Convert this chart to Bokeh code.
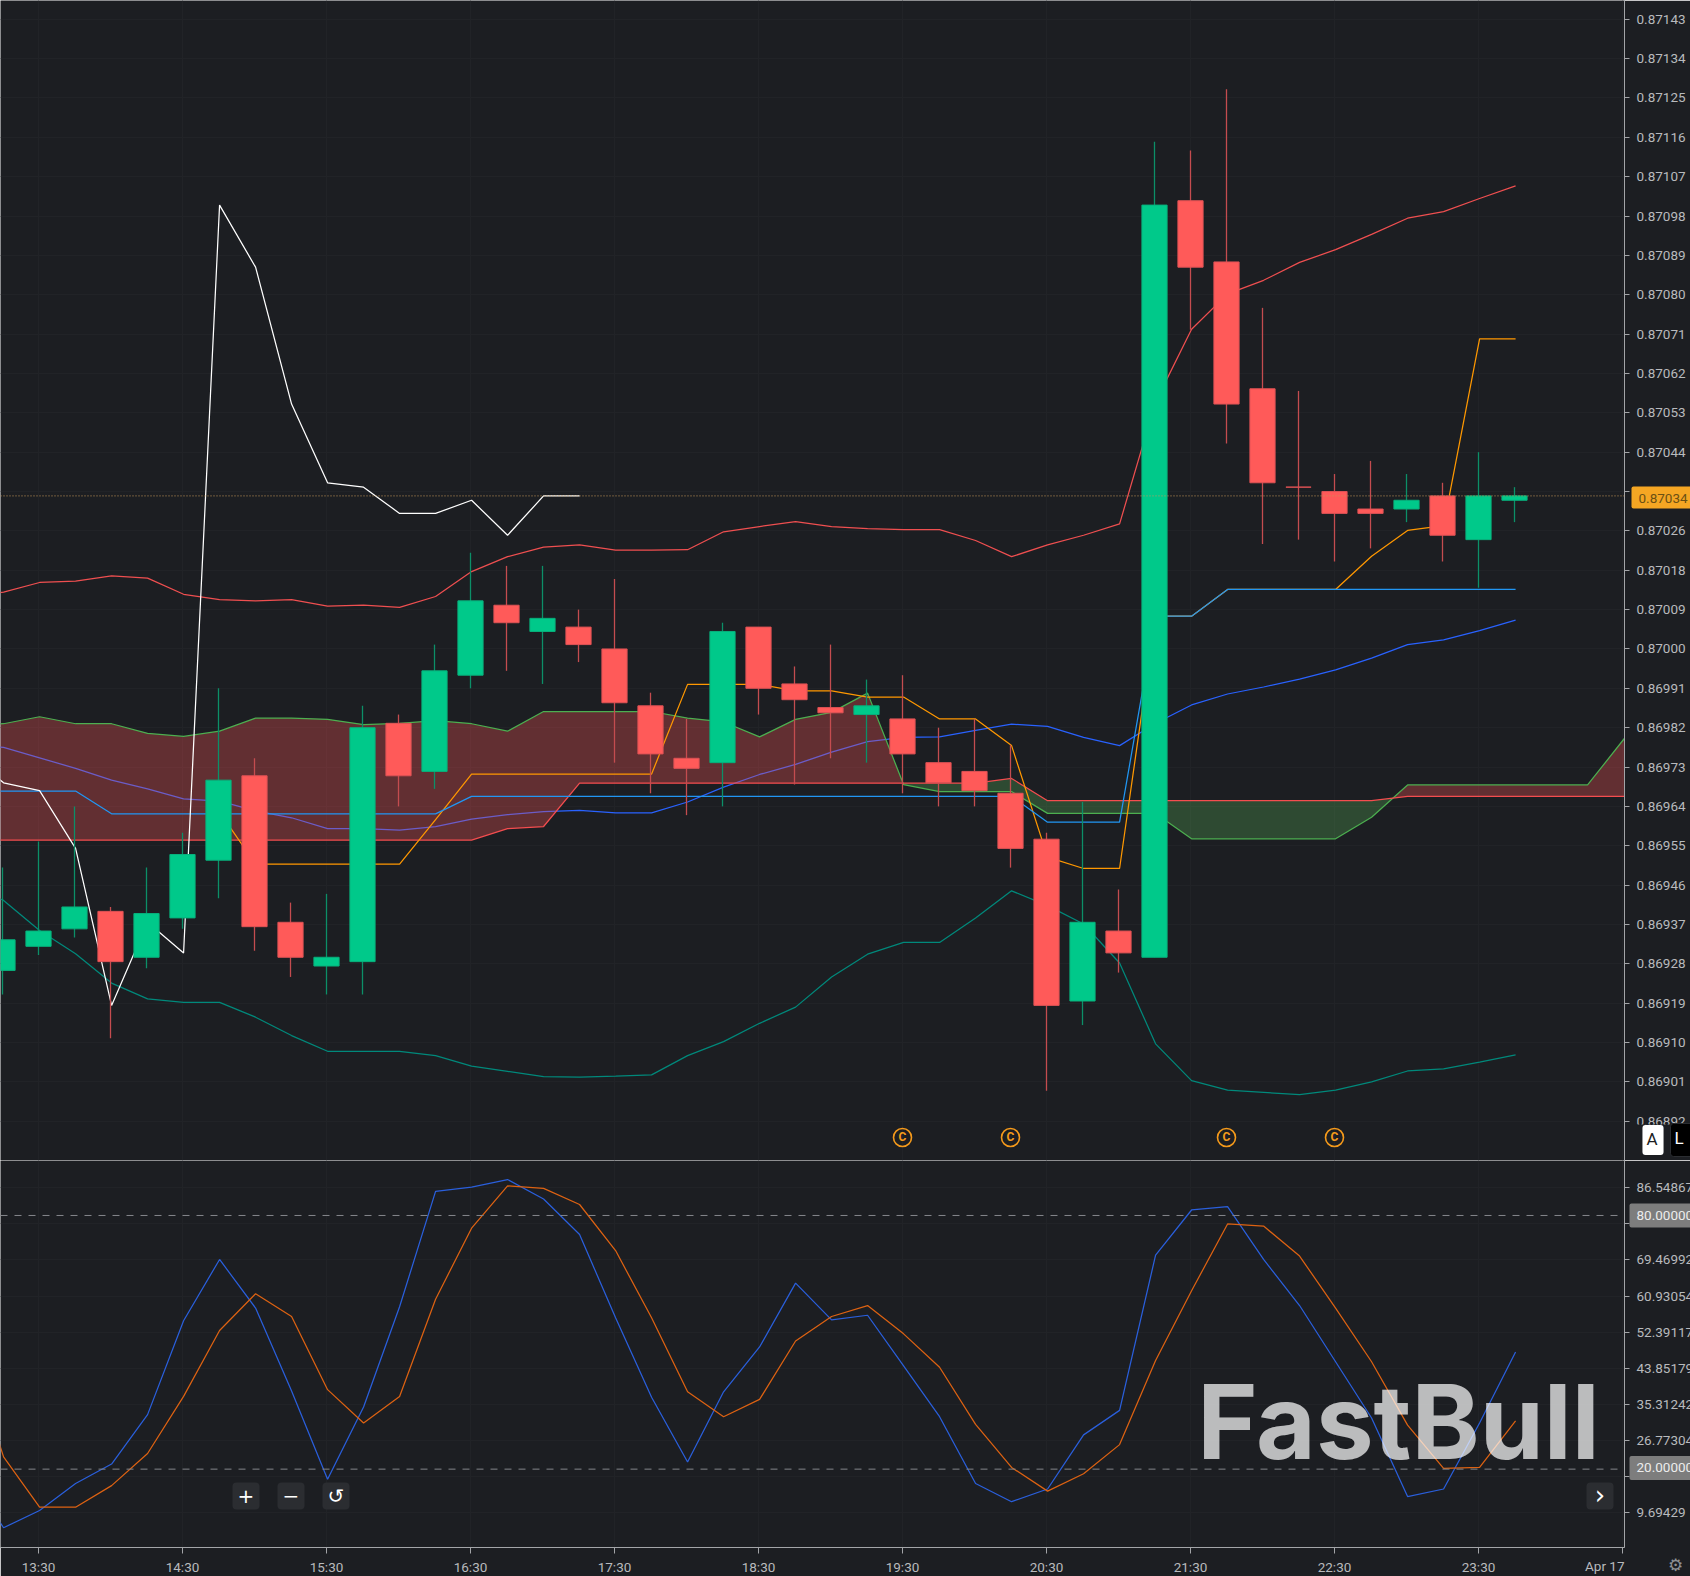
import numpy as np
from bokeh.embed import file_html
from bokeh.resources import INLINE
from bokeh.plotting import figure
from bokeh.layouts import column
from bokeh.models import (Range1d, FixedTicker, Grid, Span, Label, BoxAnnotation)
from bokeh.core.properties import value

# ---------- data ----------
opens  = [86925.5,86931,86935,86939,86928.5,86937.5,86950.7,86970,86936.5,86926.5,86927.5,86982,86971,86993,87009,87003,87004,86999,86986,86974,86973,87004,86991,86985.6,86984,86983,86973,86971,86966,86955.5,86918.5,86934.5,86928.5,87101.5,87087.5,87058.5,87036,87035,87031,87031,87034,87024,87033]
highs  = [86949,86955,86963,86940,86949,86957,86990,86974,86941,86943,86986,86984,87000,87021,87018,87018,87008,87015,86989,86983,87005,87004,86995,87000,86992,86993,86981,86983,86977,86957,86964,86944,87115,87113,87127,87077,87058,87039,87042,87039,87037,87044,87036]
lows   = [86920,86929,86933,86910,86926,86935,86942,86930,86924,86920,86920,86963,86967,86990,86994,86991,86996,86973,86966,86961,86963,86984,86968,86974,86973,86966,86963,86963,86949,86898,86913,86925,86928.5,87072,87046,87023,87024,87019,87022,87028,87019,87013,87028]
closes = [86932.5,86934.5,86940,86927.5,86938.5,86952,86969,86935.5,86928.5,86928.5,86981,86970,86994,87010,87005,87006,87000,86986.7,86975,86971.7,87003,86990,86987.4,86984.4,86986,86975,86968.4,86966.6,86953.4,86917.5,86936.5,86929.5,87100.5,87086.3,87055,87037,87036,87030,87030,87033,87025,87034,87034]

# indicator arrays start one bar left of the first candle
bb_upper = [0.870110,0.870120,0.870142,0.870145,0.870157,0.870152,0.870115,0.870103,0.870100,0.870103,0.870088,0.870090,0.870085,0.870110,0.870167,0.870201,0.870223,0.870228,0.870216,0.870216,0.870217,0.870258,0.870270,0.870281,0.870270,0.870265,0.870263,0.870263,0.870238,0.870201,0.870228,0.870250,0.870276,0.870555,0.870721,0.870802,0.870833,0.870874,0.870903,0.870938,0.870975,0.870990,0.871020,0.871049]
bb_lower = [0.869450,0.869415,0.869346,0.869293,0.869226,0.869190,0.869182,0.869182,0.869148,0.869106,0.869070,0.869070,0.869070,0.869060,0.869036,0.869024,0.869012,0.869011,0.869013,0.869016,0.869060,0.869092,0.869134,0.869171,0.869240,0.869292,0.869319,0.869319,0.869375,0.869437,0.869403,0.869361,0.869272,0.869087,0.869003,0.868981,0.868976,0.868971,0.868981,0.869000,0.869025,0.869030,0.869045,0.869062]
bb_mid   = [0.869770,0.869765,0.869741,0.869717,0.869690,0.869670,0.869647,0.869642,0.869620,0.869604,0.869579,0.869579,0.869576,0.869584,0.869601,0.869611,0.869618,0.869621,0.869615,0.869615,0.869640,0.869674,0.869703,0.869726,0.869754,0.869778,0.869788,0.869789,0.869804,0.869818,0.869813,0.869788,0.869769,0.869820,0.869862,0.869887,0.869903,0.869921,0.869942,0.869969,0.870000,0.870011,0.870032,0.870056]
kijun    = [0.869665]*4 + [0.869613]*10 + [0.869653]*16 + [0.869594]*3 + [0.870065]*2 + [0.870126]*9
tenkan_start = 6
tenkan   = [0.869617] + [0.869498]*5 + [0.869600] + [0.869704]*6 + [0.869909]*3 + [0.869894]*2 + [0.869880]*2 + [0.869830]*2 + [0.869769,0.869514,0.869488,0.869488,0.870065,0.870065,0.870126,0.870126,0.870126,0.870126,0.870202,0.870261,0.870272,0.870699,0.870699]
span_a   = [0.869816,0.869819,0.869835,0.869819,0.869819,0.869797,0.869790,0.869802,0.869832,0.869832,0.869829,0.869817,0.869820,0.869826,0.869819,0.869802,0.869847,0.869847,0.869847,0.869847,0.869832,0.869823,0.869789,0.869829,0.869845,0.869889,0.869680,0.869664,0.869664,0.869664,0.869614,0.869614,0.869614,0.869614,0.869556,0.869556,0.869556,0.869556,0.869556,0.869605,0.869679,0.869679,0.869679,0.869679,0.869679,0.869679,0.869783,0.869887]
span_b   = [0.869553]*15 + [0.869579,0.869584] + [0.869683]*12 + [0.869694] + [0.869643]*10 + [0.869653]*8

stoch_k = [19.0,6.14,10.22,16.6,21.2,32.9,55.1,69.6,58.1,38.5,17.6,34.7,58.4,85.7,86.7,88.5,83.9,75.5,55.8,37.0,21.7,38.3,48.9,64.0,55.3,56.4,44.4,32.4,16.6,12.3,15.3,28.1,33.9,70.6,81.3,82.1,69.6,58.7,45.4,32.1,13.5,15.3,30.9,47.7]
stoch_d = [49.5,22.9,11.0,11.0,16.1,23.7,37.2,52.8,61.5,56.1,38.8,30.9,37.2,60.2,77.0,87.0,86.4,82.6,71.7,55.8,38.3,32.4,36.5,50.3,56.1,58.7,52.0,44.1,30.6,20.4,14.8,18.9,25.8,45.7,62.2,78.0,77.5,70.4,58.1,45.4,30.4,20.2,20.4,31.4]

price_ticks = ["0.87143","0.87134","0.87125","0.87116","0.87107","0.87098","0.87089","0.87080","0.87071","0.87062","0.87053","0.87044","","0.87026","0.87018","0.87009","0.87000","0.86991","0.86982","0.86973","0.86964","0.86955","0.86946","0.86937","0.86928","0.86919","0.86910","0.86901","0.86892"]
price_tick_top = 0.87143
price_tick_step = 0.00009
osc_tick_values = [86.54867,78.00929,69.46992,60.93054,52.39117,43.85179,35.31242,26.77304,18.23367,9.69429]
osc_ticks = ["86.54867","","69.46992","60.93054","52.39117","43.85179","35.31242","26.77304","","9.69429"]
time_idx = [1,5,9,13,17,21,25,29,33,37,41,45]
time_labels = ["13:30","14:30","15:30","16:30","17:30","18:30","19:30","20:30","21:30","22:30","23:30",""]
event_idx = [25,28,34,37]
event_price = [0.868873]*4
last_price = 0.87034
last_price_text = "0.87034"

# ---------- style ----------
BG = "#1C1E22"
GRID = "#212327"
AXIS = "#A3A5A8"
TXT = "#B8BABD"
FONT = "Roboto"
TICK_FS = "13.5px"
UP = "#00C98A"; DOWN = "#FF5A59"
UP_W = "#0C8F68"; DOWN_W = "#C44C4F"
UP_B = "#08B07C"; DOWN_B = "#DD5255"
LINE_SHIFT = 0.03
LW = 1.25
W, FW = 1690, 1624
H1, H2, H2F = 1160, 416, 387
xr = Range1d(-2/36, (FW-2)/36)

o, h, l, c = [np.array(a)*1e-5 for a in (opens, highs, lows, closes)]
idx = np.arange(len(o))
up = c > o
base = np.arange(-1, 60)

def make_fig(height, frame_h, yr, tick_pos, labels, xaxis):
    f = figure(width=W, height=height, frame_width=FW, frame_height=frame_h, x_range=xr, y_range=yr,
               output_backend="svg", toolbar_location=None, tools="",
               x_axis_location="below" if xaxis else None, y_axis_location="right",
               background_fill_color=BG, border_fill_color=BG, outline_line_color=None,
               min_border_left=0, min_border_top=0, min_border_bottom=0, min_border_right=0)
    ya = f.yaxis[0]
    ya.ticker = FixedTicker(ticks=tick_pos)
    ya.major_label_overrides = dict(zip(tick_pos, labels))
    ya.major_label_text_color = TXT; ya.major_label_text_font = FONT; ya.major_label_text_font_size = TICK_FS
    ya.major_label_standoff = 7
    ya.major_tick_out = 5; ya.major_tick_in = 0; ya.minor_tick_out = 0; ya.minor_tick_in = 0
    ya.major_tick_line_color = AXIS; ya.axis_line_color = AXIS
    for g in list(f.grid):
        f.center.remove(g)
    f.add_layout(Grid(dimension=1, ticker=FixedTicker(ticks=tick_pos), grid_line_color=GRID))
    f.add_layout(Grid(dimension=0, ticker=FixedTicker(ticks=time_idx), grid_line_color=GRID))
    return f

def to_x(px):
    return xr.start + px/36

def to_y(f, fh, py):
    yr = f.y_range
    return yr.end - py*(yr.end-yr.start)/fh

def box(f, fh, x0, y0, x1, y1, color, radius=0):
    f.add_layout(BoxAnnotation(left=to_x(x0), right=to_x(x1), top=to_y(f, fh, y0), bottom=to_y(f, fh, y1),
                               fill_color=color, fill_alpha=1, line_color=None, border_radius=radius, level="annotation"))

def label(f, fh, x, y, text, color, size, font=FONT, align="center", style="normal", alpha=1.0, side="center",
          bg=None, pad=0, radius=0, border=None):
    # placed through the figure's scales, so it works from a side panel as well
    f.add_layout(Label(x=to_x(x), y=to_y(f, fh, y), text=text, text_color=color,
                       text_font=font, text_font_size=size, text_align=align, text_baseline="middle",
                       text_font_style=style, text_alpha=alpha, level="annotation",
                       background_fill_color=bg, padding=pad, border_radius=radius, border_line_color=border), side)

# ---------- price pane ----------
price_pos = [round(price_tick_top - k*price_tick_step, 5) for k in range(len(price_ticks))]
p = make_fig(H1, H1, Range1d(0.8688203, 0.8714728), price_pos, price_ticks, False)

p.line(base[:len(bb_upper)]+LINE_SHIFT, bb_upper, line_color="#EF4F50", line_width=LW)
p.line(base[:len(bb_lower)]+LINE_SHIFT, bb_lower, line_color="#00897B", line_width=LW)
p.line(base[:len(bb_mid)]+LINE_SHIFT, bb_mid, line_color="#2962FF", line_width=LW)

xa = base[:len(span_a)].astype(float)+LINE_SHIFT
a = np.array(span_a); b = np.array(span_b)
xf, af, bf = [xa[0]], [a[0]], [b[0]]
for k in range(1, len(xa)):
    d0, d1 = a[k-1]-b[k-1], a[k]-b[k]
    if d0*d1 < 0:
        t = d0/(d0-d1)
        xf.append(xa[k-1]+t*(xa[k]-xa[k-1])); v = a[k-1]+t*(a[k]-a[k-1]); af.append(v); bf.append(v)
    xf.append(xa[k]); af.append(a[k]); bf.append(b[k])
xf, af, bf = map(np.array, (xf, af, bf))
lo = np.minimum(af, bf)
p.varea(xf, af, lo, fill_color="#F35155", fill_alpha=0.33)
p.varea(xf, bf, lo, fill_color="#56A356", fill_alpha=0.33)
p.line(xa, a, line_color="#4CAF50", line_width=LW)
p.line(xa, b, line_color="#F44D4F", line_width=LW)
p.line(np.arange(len(tenkan))+tenkan_start+LINE_SHIFT, tenkan, line_color="#FF9800", line_width=LW)
p.line(base[:len(kijun)]+LINE_SHIFT, kijun, line_color="#2196F3", line_width=LW)
p.line(np.arange(25, len(c))-26+LINE_SHIFT, c[25:], line_color="#FFFFFF", line_width=LW)

p.segment(idx[up], h[up], idx[up], l[up], line_color=UP_W, line_width=1.3)
p.segment(idx[~up], h[~up], idx[~up], l[~up], line_color=DOWN_W, line_width=1.3)
p.vbar(idx[up], 0.7, c[up], o[up], fill_color=UP, line_color=UP_B, line_width=1)
p.vbar(idx[~up], 0.7, o[~up], c[~up], fill_color=DOWN, line_color=DOWN_B, line_width=1)

p.add_layout(Span(location=last_price, dimension="width", line_color="#C79A5A", line_dash="1 2", line_width=1))
p.scatter(event_idx, event_price, marker="circle", size=18, fill_color=None, line_color="#F59A1B", line_width=1.6)
p.text(event_idx, event_price, text=["C"]*4, text_color="#F59A1B", text_align="center", text_baseline="middle",
       text_font=value(FONT), text_font_size="12px", text_font_style="bold")

label(p, H1, 1625, 1146, "\u00a0"*14, BG, "38px", align="left", bg=BG, side="right")
label(p, H1, 1631, 497, last_price_text, "#6B5014", TICK_FS, align="left", bg="#F5A623", pad=(7, 6, 7, 6), radius=2, side="right")
label(p, H1, 1652.5, 1139.5, "A", "#1C1E22", "17px", bg="#FFFFFF", pad=(4, 6, 4, 6), radius=3, side="right")
label(p, H1, 1670, 1139.5, "L", "#FFFFFF", "17px", align="left", bg="#000000", pad=(4, 14, 4, 9), radius=3, border="#2B2D31", side="right")

# ---------- oscillator pane ----------
p2 = make_fig(H2, H2F, Range1d(1.463, 93.006), osc_tick_values, osc_ticks, True)
xa2 = p2.xaxis[0]
xa2.ticker = FixedTicker(ticks=time_idx)
xa2.major_label_overrides = dict(zip(time_idx, time_labels))
xa2.major_label_text_color = TXT; xa2.major_label_text_font = FONT; xa2.major_label_text_font_size = TICK_FS
xa2.major_label_standoff = 5
xa2.major_tick_out = 6; xa2.major_tick_in = 0; xa2.minor_tick_out = 0; xa2.minor_tick_in = 0
xa2.major_tick_line_color = AXIS; xa2.axis_line_color = AXIS

p2.line(base[:len(stoch_k)]+LINE_SHIFT, stoch_k, line_color="#2A5FDC", line_width=LW)
p2.line(base[:len(stoch_d)]+LINE_SHIFT, stoch_d, line_color="#DD6212", line_width=LW)
for lv in (80, 20):
    p2.add_layout(Span(location=lv, dimension="width", line_color="#85878B", line_dash="7 7", line_width=1))

label(p2, H2F, 1398, 1421-1160, "FastBull", "#FFFFFF", "103px", font="Inter", style="bold", alpha=0.7)

label(p2, H2F, 1629, 1215-1160, "80.00000", "#ECECEC", TICK_FS, align="left", bg="#7D7D7D", pad=(7, 20, 7, 8), radius=2, side="right")
label(p2, H2F, 1629, 1467.5-1160, "20.00000", "#ECECEC", TICK_FS, align="left", bg="#7D7D7D", pad=(7, 20, 7, 8), radius=2, side="right")

for x0, t in ((232, "+"), (277, "\u2212"), (322, "\u21ba")):
    box(p2, H2F, x0, 1482-1160, x0+27, 1509-1160, "#2B2D31", 4)
    label(p2, H2F, x0+13.5, 1495.5-1160, t, "#FFFFFF", "20px", font="DejaVu Sans")
box(p2, H2F, 1586, 1482-1160, 1613, 1509-1160, "#2B2D31", 4)
label(p2, H2F, 1599.5, 1494.5-1160, "\u203a", "#FFFFFF", "26px", font="DejaVu Sans")
label(p2, H2F, 1624, 1565-1160, "Apr 17", TXT, TICK_FS, align="right", side="right")
label(p2, H2F, 1675, 1564-1160, "\u2699", "#8E9094", "17px", font="DejaVu Sans", side="right")

root = column(p, p2, spacing=0)
open("out.html", "w").write(file_html(root, INLINE))
